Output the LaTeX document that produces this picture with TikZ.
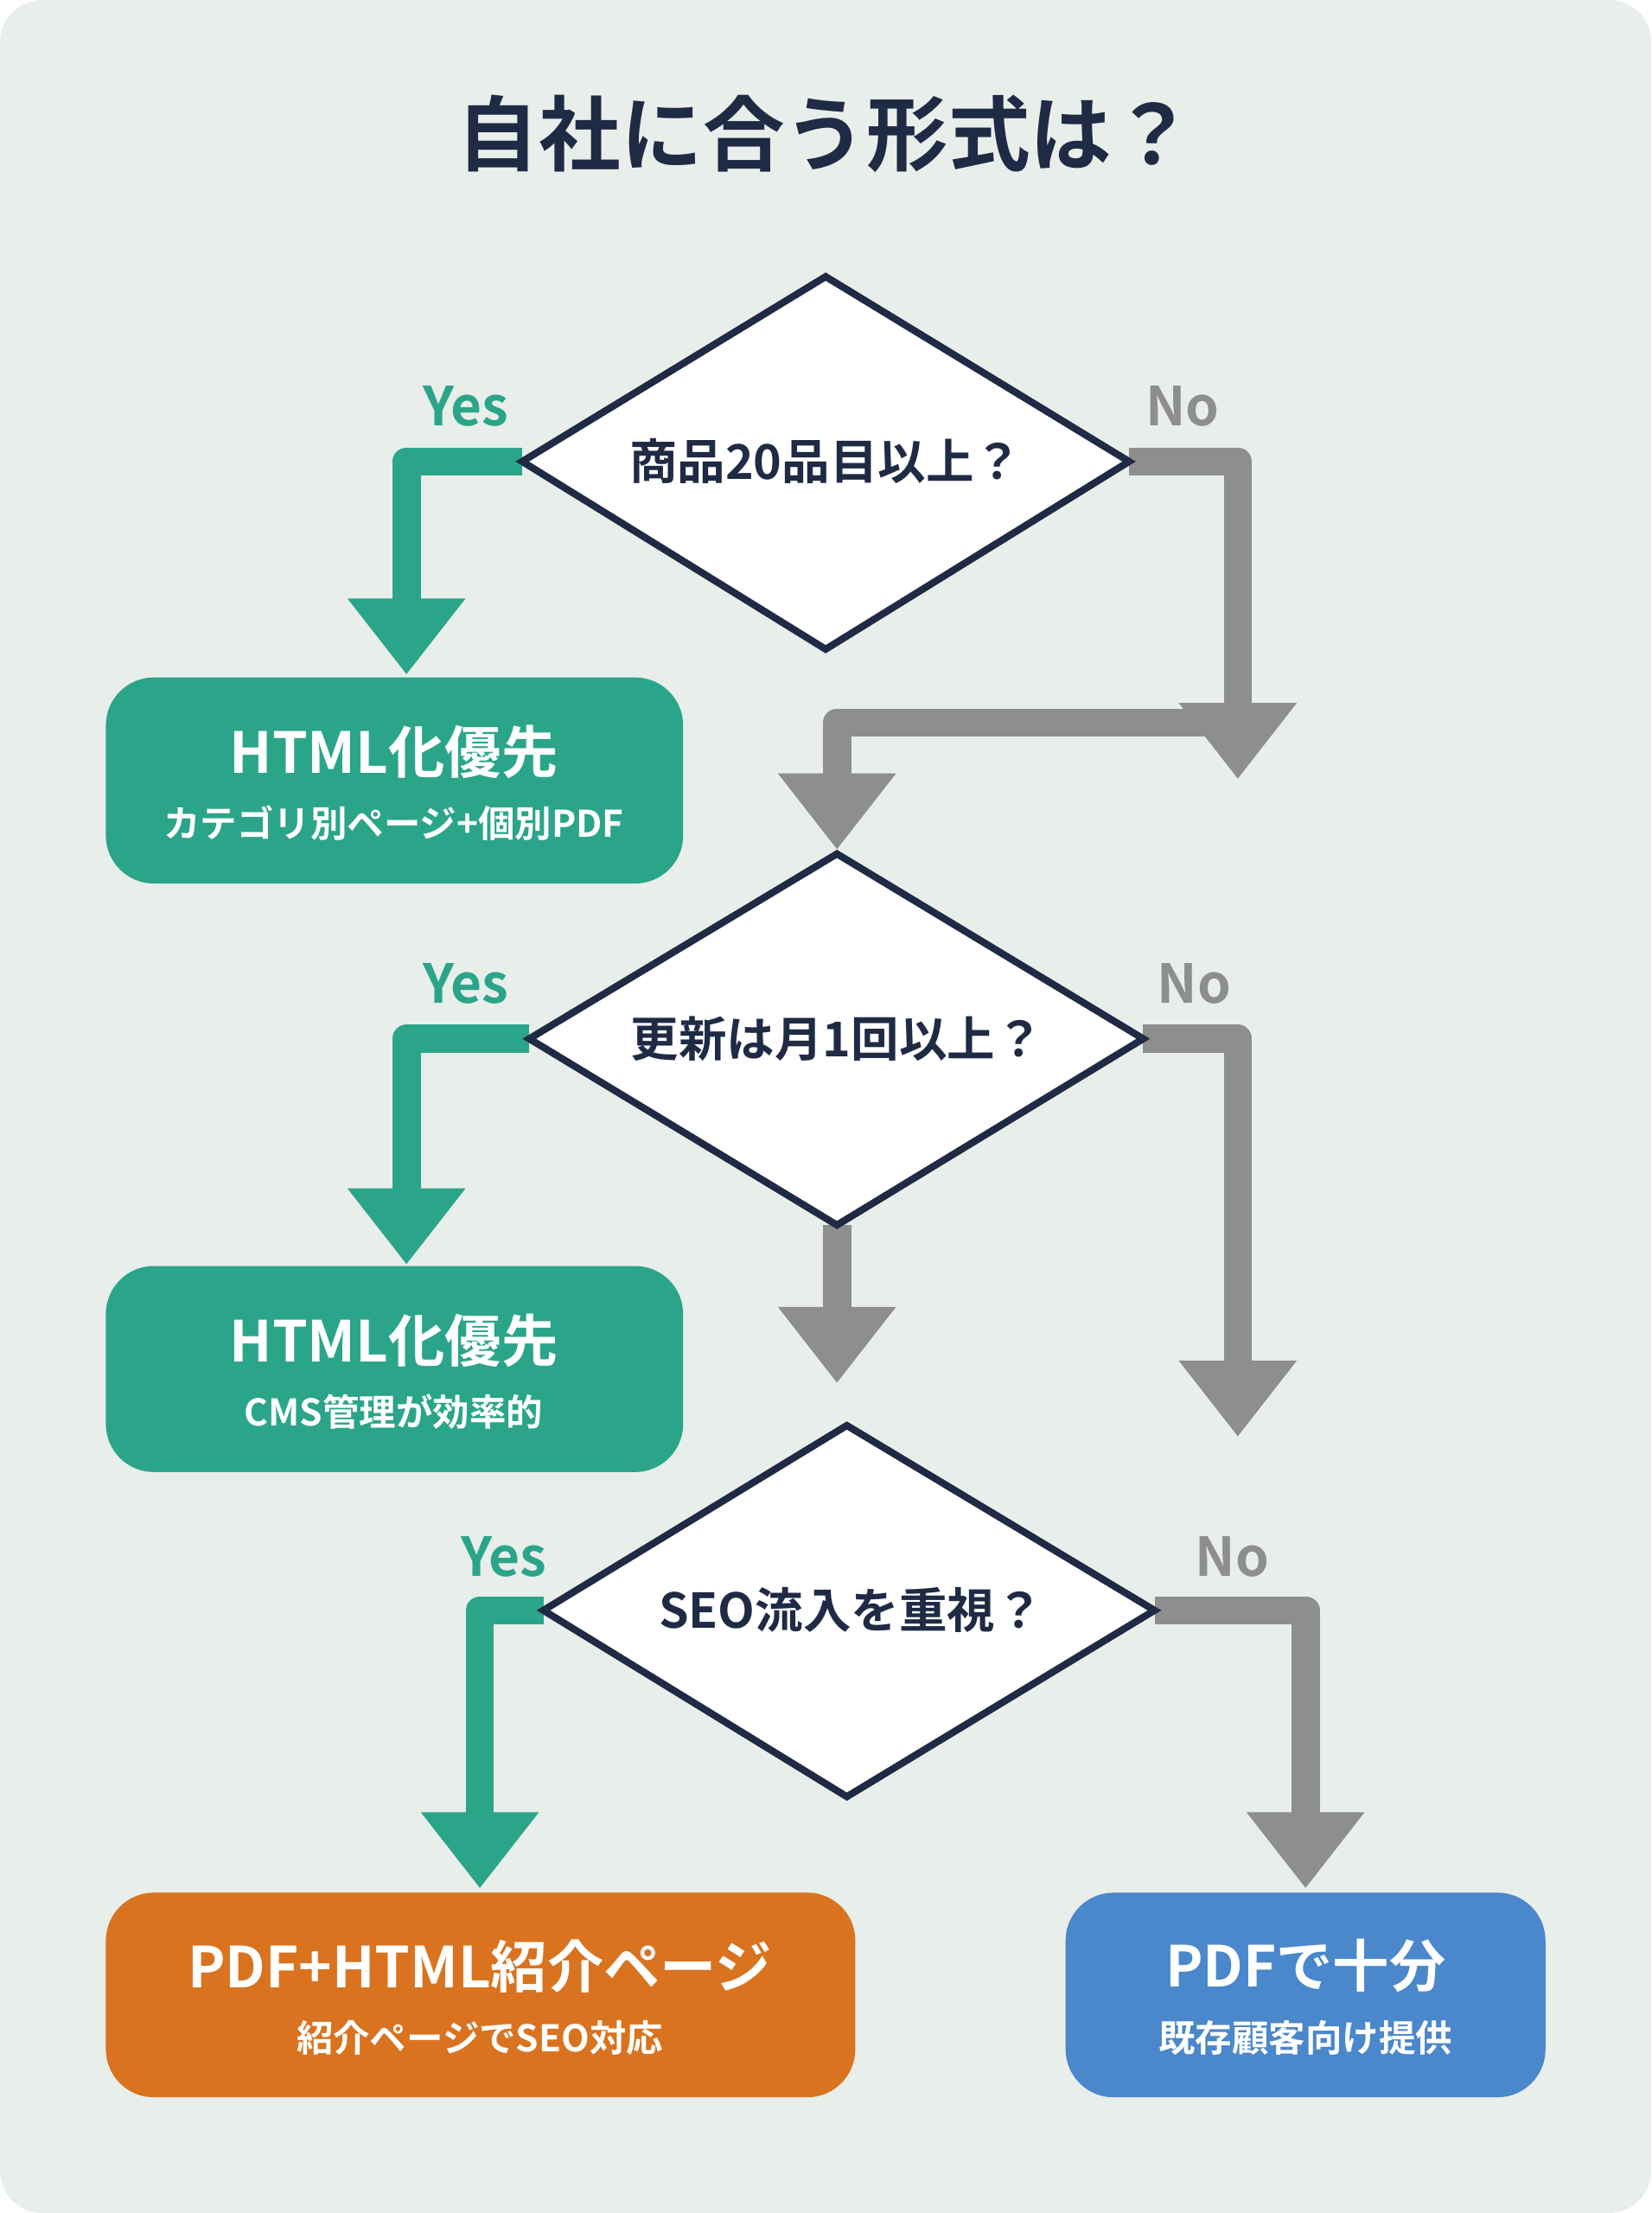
\documentclass[tikz,border=0pt]{standalone}
\usepackage{fontspec}
\setmainfont{Noto Sans CJK JP}[BoldFont={Noto Sans CJK JP Bold}]
\usetikzlibrary{arrows.meta}
\definecolor{bg}{HTML}{E8EEE9}
\definecolor{navy}{HTML}{1F2A44}
\definecolor{teal}{HTML}{2BA58A}
\definecolor{gr}{HTML}{8E8E8E}
\definecolor{org}{HTML}{D9731F}
\definecolor{blu}{HTML}{4A87CB}
\begin{document}
\begin{tikzpicture}[x=0.5pt,y=-0.5pt,
 dia/.style={fill=white,draw=navy,line width=2.5pt,line join=miter},
 dtext/.style={font=\fontsize{17}{20}\selectfont\bfseries,text=navy},
 box/.style={rounded corners=17pt,draw=none},
 yes/.style={draw=teal,line width=10pt,line join=round,-{Triangle[width=40pt,length=27pt]}},
 no/.style={draw=gr,line width=10pt,line join=round,-{Triangle[width=40pt,length=27pt]}},
 ylab/.style={font=\fontsize{19}{22}\selectfont\bfseries,text=teal},
 nlab/.style={font=\fontsize{19}{22}\selectfont\bfseries,text=gr},
 big/.style={font=\fontsize{20}{24}\selectfont\bfseries,text=white},
 small/.style={font=\fontsize{13}{16}\selectfont\bfseries,text=white}]
\fill[bg,rounded corners=15pt] (0,0) rectangle (1170,1568);
\useasboundingbox (0,0) rectangle (1170,1568);
\node[font=\fontsize{29}{34}\selectfont\bfseries,text=navy] (title) at (585,95) {自社に合う形式は？};
% coordinates
\coordinate (d1t) at (585,196); \coordinate (d1b) at (585,460);
\coordinate (d1l) at (370,327); \coordinate (d1r) at (800,327);
\coordinate (d2t) at (593,605); \coordinate (d2b) at (593,868);
\coordinate (d2l) at (375,736); \coordinate (d2r) at (810,736);
\coordinate (d3t) at (600,1010); \coordinate (d3b) at (600,1273);
\coordinate (d3l) at (385,1141); \coordinate (d3r) at (818,1141);
\coordinate (t1) at (288,478); \coordinate (t2) at (877,552);
\coordinate (t3) at (593,602); \coordinate (t4) at (288,896);
\coordinate (t5) at (877,1018); \coordinate (t6) at (593,980);
\coordinate (t7) at (340,1338); \coordinate (t8) at (925,1338);
% arrows (under diamonds)
\draw[yes] (d1l) -| (t1);
\draw[no] (d1r) -| (t2);
\draw[no] (877,512) -| (t3);
\draw[yes] (d2l) -| (t4);
\draw[no] (d2r) -| (t5);
\draw[no] (d2b) -- (t6);
\draw[yes] (d3l) -| (t7);
\draw[no] (d3r) -| (t8);
% diamonds
\draw[dia] (d1t)--(d1r)--(d1b)--(d1l)--cycle;
\draw[dia] (d2t)--(d2r)--(d2b)--(d2l)--cycle;
\draw[dia] (d3t)--(d3r)--(d3b)--(d3l)--cycle;
\node[dtext] (q1) at (585,327) {商品20品目以上？};
\node[dtext] (q2) at (593,736) {更新は月1回以上？};
\node[dtext] (q3) at (603,1141) {SEO流入を重視？};
\node[ylab] (y1) at (330,288) {Yes}; \node[nlab] (n1) at (838,288) {No};
\node[ylab] (y2) at (330,697) {Yes}; \node[nlab] (n2) at (846,697) {No};
\node[ylab] (y3) at (357,1103) {Yes}; \node[nlab] (n3) at (873,1103) {No};
% boxes
\fill[box,teal] (75,480) rectangle (484,626);
\node[big] (b1) at (279,533) {HTML化優先};
\node[small] (b1s) at (279,583) {カテゴリ別ページ+個別PDF};
\fill[box,teal] (75,897) rectangle (484,1043);
\node[big] (b2) at (279,950) {HTML化優先};
\node[small] (b2s) at (279,1000) {CMS管理が効率的};
\fill[box,org] (75,1341) rectangle (606,1486);
\node[big] (b3) at (340,1393) {PDF+HTML紹介ページ};
\node[small] (b3s) at (340,1444) {紹介ページでSEO対応};
\fill[box,blu] (755,1341) rectangle (1095,1486);
\node[big] (b4) at (925,1393) {PDFで十分};
\node[small] (b4s) at (925,1444) {既存顧客向け提供};
\end{tikzpicture}
\end{document}
